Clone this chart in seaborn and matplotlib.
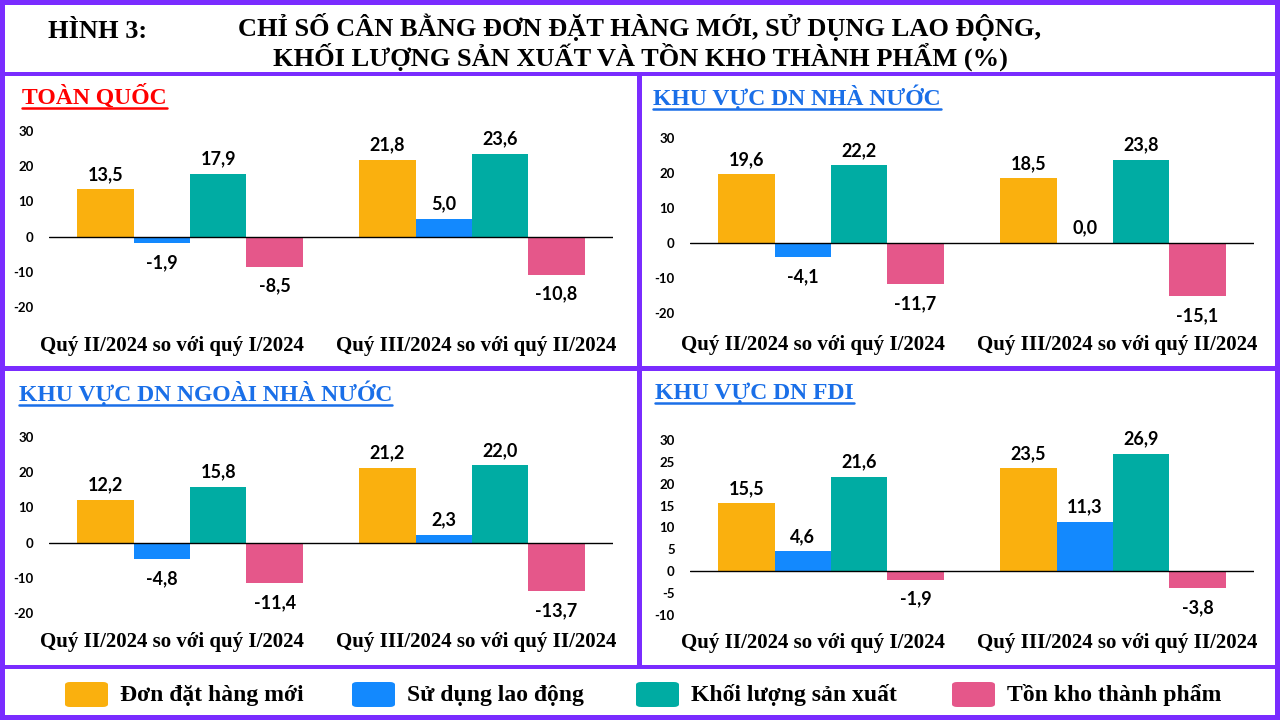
import matplotlib
matplotlib.use("Agg")
import matplotlib.pyplot as plt
from matplotlib.patches import Rectangle, FancyBboxPatch
from matplotlib.lines import Line2D
import matplotlib.transforms as mtransforms
import seaborn as sns
import pandas as pd

# ---------------- data ----------------
periods = ["Quý II/2024 so với quý I/2024", "Quý III/2024 so với quý II/2024"]
series = ["Đơn đặt hàng mới", "Sử dụng lao động", "Khối lượng sản xuất", "Tồn kho thành phẩm"]
colors = ["#FAB00E", "#1389FE", "#00ACA3", "#E5578A"]

panel_titles = ["TOÀN QUỐC", "KHU VỰC DN NHÀ NƯỚC", "KHU VỰC DN NGOÀI NHÀ NƯỚC", "KHU VỰC DN FDI"]
panel_title_colors = ["#FF0000", "#1A6FE8", "#1A6FE8", "#1A6FE8"]

# values[series][period]
toan_quoc = [[13.5, 21.8], [-1.9, 5.0], [17.9, 23.6], [-8.5, -10.8]]
nha_nuoc = [[19.6, 18.5], [-4.1, 0.0], [22.2, 23.8], [-11.7, -15.1]]
ngoai_nha_nuoc = [[12.2, 21.2], [-4.8, 2.3], [15.8, 22.0], [-11.4, -13.7]]
fdi = [[15.5, 23.5], [4.6, 11.3], [21.6, 26.9], [-1.9, -3.8]]
panel_values = [toan_quoc, nha_nuoc, ngoai_nha_nuoc, fdi]

yticks_list = [
    [-20, -10, 0, 10, 20, 30],
    [-20, -10, 0, 10, 20, 30],
    [-20, -10, 0, 10, 20, 30],
    [-10, -5, 0, 5, 10, 15, 20, 25, 30],
]

title_line0 = "HÌNH 3:"
title_line1 = "CHỈ SỐ CÂN BẰNG ĐƠN ĐẶT HÀNG MỚI, SỬ DỤNG LAO ĐỘNG,"
title_line2 = "KHỐI LƯỢNG SẢN XUẤT VÀ TỒN KHO THÀNH PHẨM (%)"

# ---------------- layout (pixels) ----------------
W, H = 1280, 720
PURPLE = "#7A2CFF"
SERIF = "Liberation Serif"
SANS = "Lato"

sns.set_theme(style="white")
plt.rcParams["font.family"] = [SANS, "DejaVu Sans"]

fig = plt.figure(figsize=(W / 100, H / 100), dpi=100)
fig.patch.set_facecolor(PURPLE)


def fx(x):
    return x / W


def fy(y):
    return 1 - y / H


def white_box(x0, y0, x1, y1):
    fig.patches.append(Rectangle((fx(x0), fy(y1)), fx(x1 - x0), (y1 - y0) / H,
                                 transform=fig.transFigure, facecolor="white",
                                 edgecolor="none", zorder=-5))


white_box(5, 5, 1275, 72)
white_box(5, 76, 637, 366)
white_box(642, 76, 1275, 366)
white_box(5, 371, 637, 665)
white_box(642, 371, 1275, 665)
white_box(5, 669, 1275, 715)

# title
fig.text(fx(48), fy(31), title_line0, family=SERIF, weight="bold", fontsize=19,
         ha="left", va="center", color="black")
fig.text(fx(640), fy(27), title_line1, family=SERIF, weight="bold", fontsize=19,
         ha="center", va="center", color="black")
fig.text(fx(640), fy(57), title_line2, family=SERIF, weight="bold", fontsize=19,
         ha="center", va="center", color="black")

# axes geometry: (x_left, x_right, y_pix_of_ymax, y_pix_of_ymin), title pos, tick pad
axes_geom = [
    (49, 613, 131, 307, (22, 97), 21),
    (690, 1254, 138, 313, (653, 97), 16),
    (49, 613, 437, 613, (19, 393), 14),
    (690, 1254, 440, 615, (655, 393), 13),
]
label_shift_px = [-18, 4]

underline_items = []
for i in range(4):
    x0, x1, ytop, ybot, (tx, ty), pad = axes_geom[i]
    ax = fig.add_axes([fx(x0), fy(ybot), fx(x1 - x0), (ybot - ytop) / H])
    ax.set_facecolor("none")
    vals = panel_values[i]
    rows = []
    for s_idx, s in enumerate(series):
        for p_idx, p in enumerate(periods):
            rows.append({"period": p, "series": s, "value": vals[s_idx][p_idx]})
    df = pd.DataFrame(rows)
    sns.barplot(data=df, x="period", y="value", hue="series", order=periods,
                hue_order=series, palette=colors, saturation=1, width=0.8,
                gap=0, errorbar=None, legend=False, ax=ax, linewidth=0)
    ax.set_xlim(-0.5, 1.5)
    yt = yticks_list[i]
    ax.set_ylim(min(yt), max(yt))
    ax.set_yticks(yt)
    ax.set_yticklabels([str(v) for v in yt], fontsize=9.5, fontweight="bold",
                       family=[SANS, "DejaVu Sans"], color="black")
    ax.axhline(0, color="black", lw=1.0, zorder=3)
    for sp in ax.spines.values():
        sp.set_visible(False)
    ax.tick_params(axis="both", length=0)
    ax.tick_params(axis="y", pad=11)
    ax.tick_params(axis="x", pad=pad)
    ax.set_xlabel("")
    ax.set_ylabel("")
    ax.set_xticks(range(len(periods)))
    ax.set_xticklabels(periods, fontsize=15, fontweight="bold", family=SERIF, color="black")
    for lab, dx in zip(ax.get_xticklabels(), label_shift_px):
        lab.set_transform(lab.get_transform() +
                          mtransforms.ScaledTranslation(dx / 100, 0, fig.dpi_scale_trans))
    ax.grid(False)
    for s_idx, cont in enumerate(ax.containers):
        pos_labels = [f"{v:.1f}".replace(".", ",") if v >= 0 else "" for v in vals[s_idx]]
        neg_labels = [f"{v:.1f}".replace(".", ",") if v < 0 else "" for v in vals[s_idx]]
        ax.bar_label(cont, labels=pos_labels, padding=4.5, fontsize=13, fontweight="bold",
                     family=[SANS, "DejaVu Sans"], color="black", clip_on=False)
        ax.bar_label(cont, labels=neg_labels, padding=8, fontsize=13, fontweight="bold",
                     family=[SANS, "DejaVu Sans"], color="black", clip_on=False)
    t = fig.text(fx(tx), fy(ty), panel_titles[i], family=SERIF, weight="bold", fontsize=17,
                 ha="left", va="center", color=panel_title_colors[i])
    underline_items.append((t, panel_title_colors[i]))

# legend (manual, rounded swatches)
legend_x = [65, 352, 636, 952]
for s, c, lx in zip(series, colors, legend_x):
    fig.patches.append(FancyBboxPatch((fx(lx), fy(707)), fx(43), 25 / H,
                                      boxstyle="round,pad=0,rounding_size=0.004",
                                      transform=fig.transFigure, facecolor=c,
                                      edgecolor="none", zorder=2))
    fig.text(fx(lx + 55), fy(695), s, family=SERIF, weight="bold", fontsize=17,
             ha="left", va="center", color="black")

# underline panel titles
fig.canvas.draw()
renderer = fig.canvas.get_renderer()
for t, c in underline_items:
    bb = t.get_window_extent(renderer=renderer)
    yline = bb.y0 + 1
    fig.lines.append(Line2D([bb.x0 / W, bb.x1 / W], [yline / H, yline / H],
                            transform=fig.transFigure, color=c, lw=1.8))

fig.savefig("out.png", dpi=100, facecolor=fig.get_facecolor())
